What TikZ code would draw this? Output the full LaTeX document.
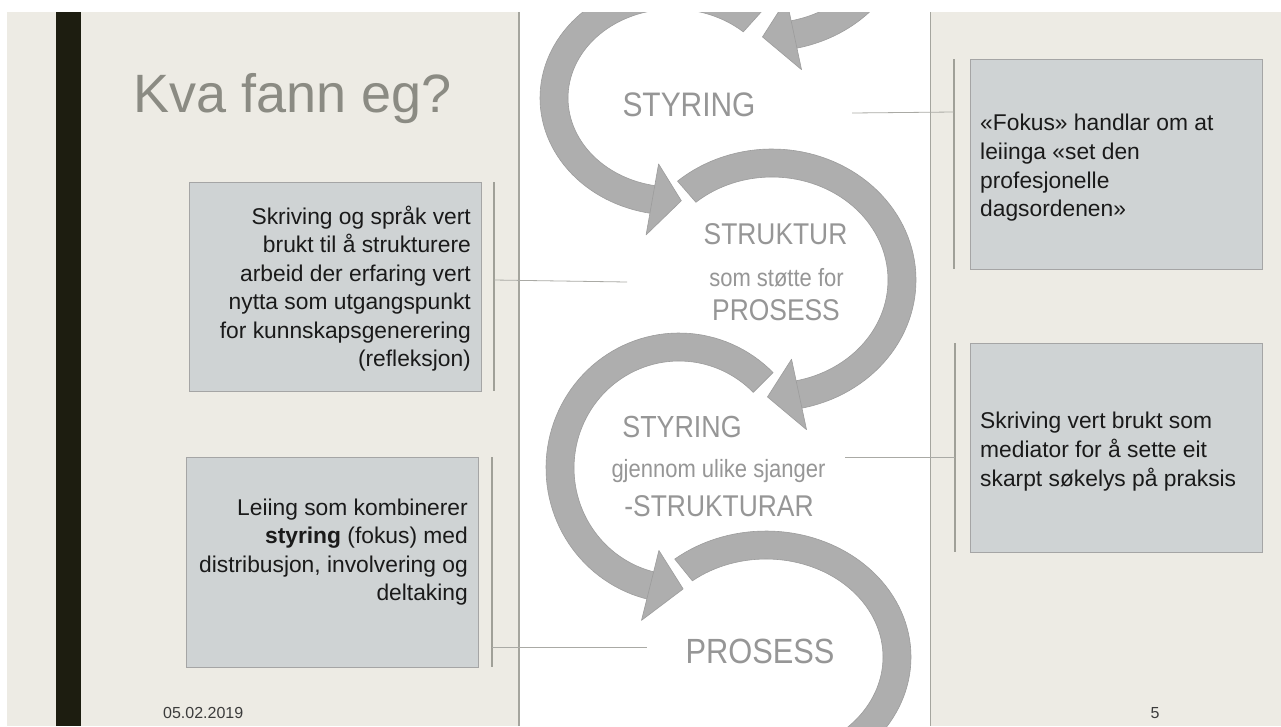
\documentclass[tikz,border=0pt]{standalone}
\usepackage{fontspec}
\setmainfont{Liberation Sans}
\newfontfamily\panelfont{Liberation Sans}[FakeStretch=0.88]
\definecolor{beige}{RGB}{237,235,228}
\definecolor{barblack}{RGB}{29,29,16}
\definecolor{arrowgray}{RGB}{174,174,174}
\definecolor{arrowedge}{RGB}{156,156,156}
\definecolor{boxfill}{RGB}{207,211,212}
\definecolor{boxedge}{RGB}{165,165,165}
\definecolor{sidegray}{RGB}{160,160,152}
\definecolor{conngray}{RGB}{170,170,165}
\definecolor{txtdark}{RGB}{26,26,26}
\definecolor{panelgray}{RGB}{150,150,150}
\definecolor{titlegray}{RGB}{139,139,131}
\definecolor{footgray}{RGB}{60,60,60}
\definecolor{borderline}{RGB}{165,165,158}
\newcommand\bandw{14}
\newcommand\headw{36}
\newcommand\ringband[6]{%
  \path[arrowstyle] plot[domain=#5:#6,samples=80] ({#1+(#3+\bandw)*cos(\x)},{#2+(#4+\bandw)*sin(\x)})
   -- plot[domain=#5:#6,samples=80] ({#1+(#3-\bandw)*cos((#5)+(#6)-\x)},{#2+(#4-\bandw)*sin((#5)+(#6)-\x)}) -- cycle;}
\newcommand\ringhead[6]{%
  \path[arrowstyle] ({#1+(#3+\headw)*cos(#5)},{#2+(#4+\headw)*sin(#5)})
   -- ({#1+#3*cos(#6)},{#2+#4*sin(#6)})
   -- ({#1+(#3-\headw)*cos(#5)},{#2+(#4-\headw)*sin(#5)}) -- cycle;}
\begin{document}
\begin{tikzpicture}[x=1pt,y=-1pt,
  arrowstyle/.style={fill=arrowgray, draw=arrowedge, line width=0.6pt, line join=round},
  boxstyle/.style={fill=boxfill, draw=boxedge, line width=0.8pt, inner sep=0pt, anchor=north west, minimum width=292pt},
  sideline/.style={draw=sidegray, line width=1.3pt},
  connector/.style={draw=conngray, line width=0.8pt},
  boxtext/.style={font=\fontsize{22.8}{27}\selectfont, text=txtdark, inner sep=0pt},
  paneltext/.style={text=panelgray, inner sep=0pt, anchor=base},
]
\useasboundingbox (0,0) rectangle (1281,726);
% background
\fill[beige] (0,0) rectangle (1281,726);
\fill[white] (0,0) rectangle (1281,12);
\fill[white] (0,0) rectangle (7,726);
\fill[barblack] (56,12) rectangle (81,726);
\fill[white] (519,12) rectangle (930,726);
% arrows
\begin{scope}
\clip (519,12) rectangle (930,726);
\ringband{767}{-80}{130}{117}{-30}{79}
\ringhead{767}{-80}{130}{117}{78}{92}
\ringband{673}{98}{119}{103}{-261}{-48}
\ringhead{673}{98}{119}{103}{-260}{-274}
\ringband{772}{280}{130}{117}{-131}{79}
\ringhead{772}{280}{130}{117}{78}{92}
\ringband{679}{468}{119}{121}{-257}{-45}
\ringhead{679}{468}{119}{121}{-256}{-272}
\ringband{766}{657}{131}{112}{-129}{79}
\ringhead{766}{657}{131}{112}{78}{92}
\end{scope}
\draw[borderline, line width=1.5pt] (519,12) -- (519,726);
\draw[borderline, line width=1.5pt] (930.5,12) -- (930.5,726);
% panel texts
\node[paneltext, font=\panelfont\fontsize{34}{36}\selectfont] (p1) at (689,116) {STYRING};
\node[paneltext, font=\panelfont\fontsize{30}{32}\selectfont] (p2) at (775.5,244) {STRUKTUR};
\node[paneltext, font=\panelfont\fontsize{25}{27}\selectfont] (p3) at (776.5,286) {som støtte for};
\node[paneltext, font=\panelfont\fontsize{30}{32}\selectfont] (p4) at (776,320) {PROSESS};
\node[paneltext, font=\panelfont\fontsize{30.5}{32}\selectfont] (p5) at (682,437) {STYRING};
\node[paneltext, font=\panelfont\fontsize{25}{27}\selectfont] (p6) at (718.5,477) {gjennom ulike sjanger};
\node[paneltext, font=\panelfont\fontsize{30}{32}\selectfont] (p7) at (719,516) {-STRUKTURAR};
\node[paneltext, font=\panelfont\fontsize{35}{37}\selectfont] (p8) at (760,663) {PROSESS};
% title
\node[font=\fontsize{54}{60}\selectfont, text=titlegray, anchor=base west, inner sep=0pt] (title) at (133,112) {Kva fann eg?};
% boxes
\node[boxstyle, minimum height=209pt] (box1) at (189,182) {};
\node[boxstyle, minimum height=210pt] (box2) at (186,457) {};
\node[boxstyle, minimum height=210pt] (box3) at (970,59) {};
\node[boxstyle, minimum height=209pt] (box4) at (970,343) {};
% side lines and connectors
\coordinate (s1t) at (494,182); \coordinate (s1b) at (494,391);
\coordinate (s2t) at (492,457); \coordinate (s2b) at (492,667);
\coordinate (s3t) at (954,59);  \coordinate (s3b) at (954,269);
\coordinate (s4t) at (955,343); \coordinate (s4b) at (955,552);
\draw[sideline] (s1t) -- (s1b);
\draw[sideline] (s2t) -- (s2b);
\draw[sideline] (s3t) -- (s3b);
\draw[sideline] (s4t) -- (s4b);
\coordinate (c1a) at (494,280); \coordinate (c1b) at (627,282);
\coordinate (c2a) at (492,647); \coordinate (c2b) at (647,647);
\coordinate (c3a) at (954,112); \coordinate (c3b) at (852,113);
\coordinate (c4a) at (955,457); \coordinate (c4b) at (845,457);
\draw[connector] (c1a) -- (c1b);
\draw[connector] (c2a) -- (c2b);
\draw[connector] (c3a) -- (c3b);
\draw[connector] (c4a) -- (c4b);
% box texts
\node[boxtext, anchor=base east] (t1a) at (471,224) {Skriving og språk vert};
\node[boxtext, anchor=base east] (t1b) at (471,252.5) {brukt til å strukturere};
\node[boxtext, anchor=base east] (t1c) at (471,281) {arbeid der erfaring vert};
\node[boxtext, anchor=base east] (t1d) at (471,309.5) {nytta som utgangspunkt};
\node[boxtext, anchor=base east] (t1e) at (471,338) {for kunnskapsgenerering};
\node[boxtext, anchor=base east] (t1f) at (471,366.5) {(refleksjon)};
\node[boxtext, anchor=base east] (t2a) at (468,515) {Leiing som kombinerer};
\node[boxtext, anchor=base east] (t2b) at (468,543) {\textbf{styring} (fokus) med};
\node[boxtext, anchor=base east] (t2c) at (468,572) {distribusjon, involvering og};
\node[boxtext, anchor=base east] (t2d) at (468,600) {deltaking};
\node[boxtext, anchor=base west] (t3a) at (980,130) {«Fokus» handlar om at};
\node[boxtext, anchor=base west] (t3b) at (980,159) {leiinga «set den};
\node[boxtext, anchor=base west] (t3c) at (980,188) {profesjonelle};
\node[boxtext, anchor=base west] (t3d) at (980,216) {dagsordenen»};
\node[boxtext, anchor=base west] (t4a) at (980,428) {Skriving vert brukt som};
\node[boxtext, anchor=base west] (t4b) at (980,457) {mediator for å sette eit};
\node[boxtext, anchor=base west] (t4c) at (980,486) {skarpt søkelys på praksis};
% footer
\node[font=\fontsize{16}{18}\selectfont, text=footgray, anchor=base west, inner sep=0pt] (date) at (163,718) {05.02.2019};
\node[font=\fontsize{16}{18}\selectfont, text=footgray, anchor=base, inner sep=0pt] (pnum) at (1155,718) {5};
\end{tikzpicture}
\end{document}
